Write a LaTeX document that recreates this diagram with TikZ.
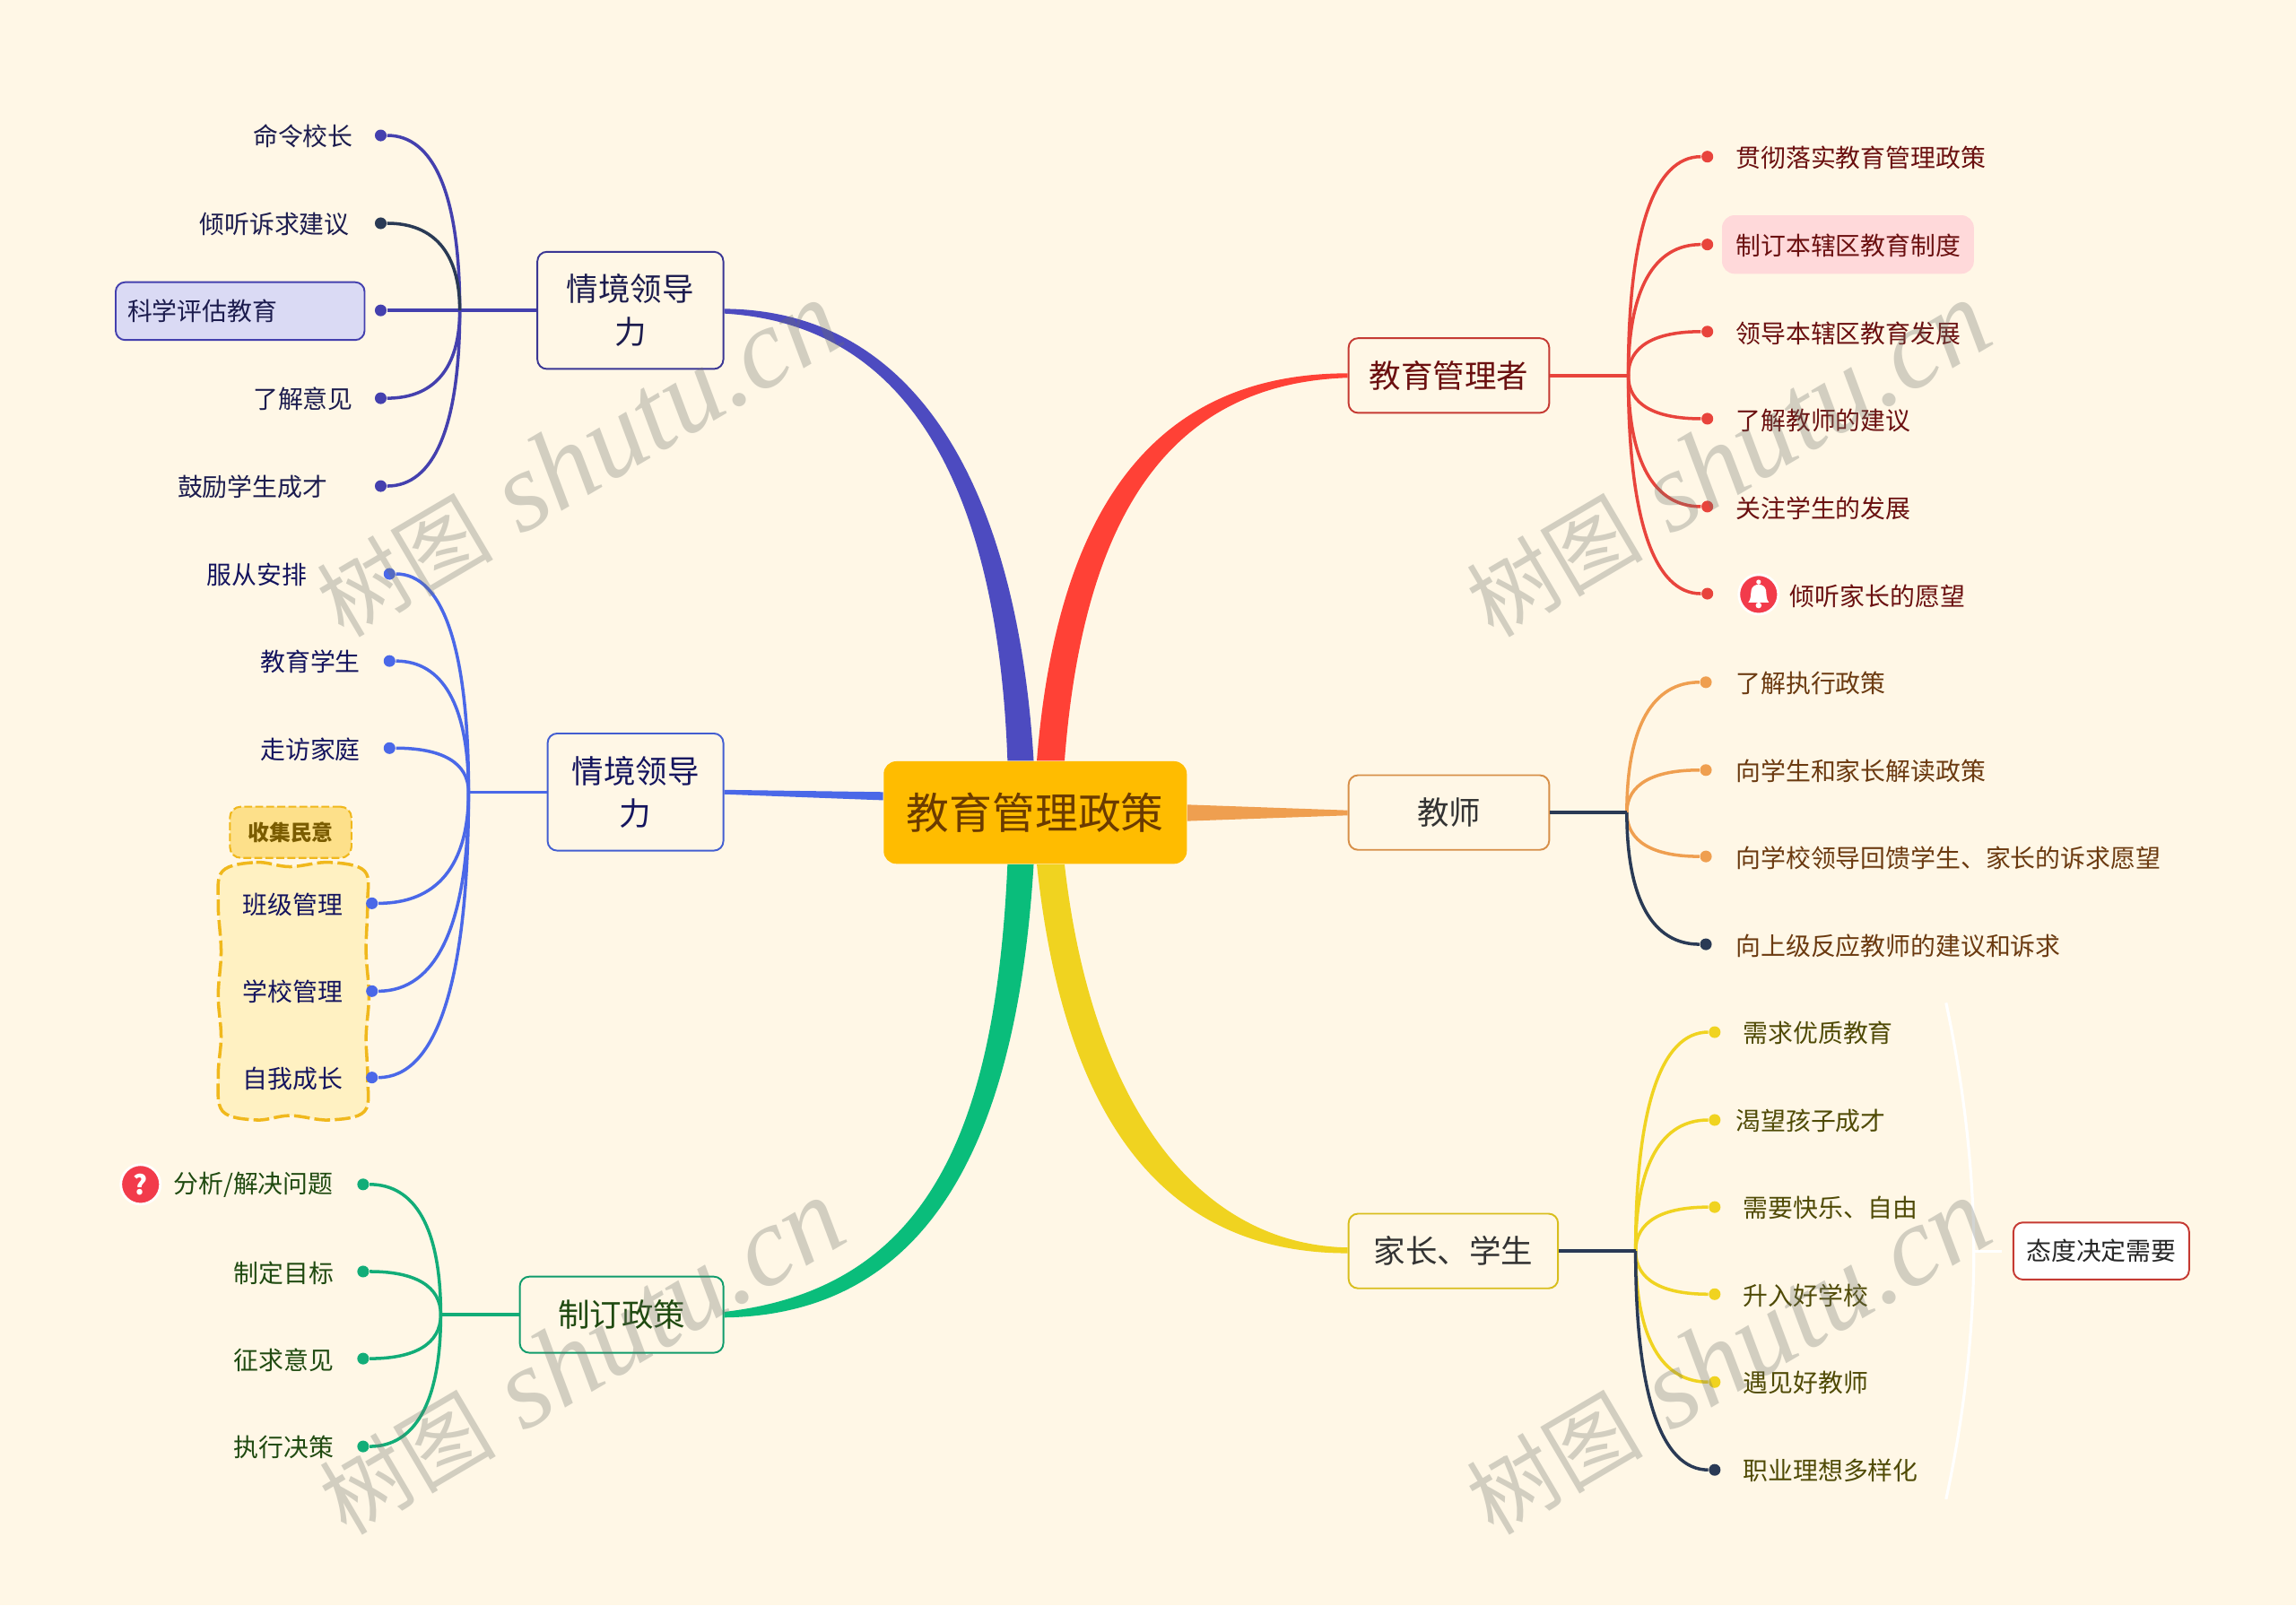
\documentclass[tikz,border=0pt]{standalone}
\usepackage{fontspec}
\usetikzlibrary{calc}
\setmainfont{Noto Sans CJK SC}
\newfontfamily\markfont{Liberation Serif}
\newcommand{\uu}{0.016327cm}
\definecolor{bgcream}{HTML}{FFF7E6}
\definecolor{mainfill}{HTML}{FFBC00}
\definecolor{maintext}{HTML}{6B3B00}
\definecolor{indigoline}{HTML}{4440AE}
\definecolor{indigoribbon}{HTML}{4D4BC0}
\definecolor{indigotext}{HTML}{1C1C4E}
\definecolor{indigosoft}{HTML}{DADAF4}
\definecolor{royalline}{HTML}{4A68E8}
\definecolor{royaltext}{HTML}{14145E}
\definecolor{greenline}{HTML}{12AD78}
\definecolor{greenribbon}{HTML}{0ABD7B}
\definecolor{greentext}{HTML}{1F4A10}
\definecolor{redline}{HTML}{E8443C}
\definecolor{redribbon}{HTML}{FF4136}
\definecolor{redtext}{HTML}{6B1010}
\definecolor{pinksoft}{HTML}{FFD9DA}
\definecolor{orangeline}{HTML}{EF9F50}
\definecolor{orangetext}{HTML}{6B3A10}
\definecolor{yellowline}{HTML}{F0D320}
\definecolor{yellowtext}{HTML}{4F4A05}
\definecolor{navyline}{HTML}{2A3A55}
\definecolor{goldline}{HTML}{F0B81C}
\definecolor{goldtag}{HTML}{FDE08A}
\definecolor{goldsoft}{HTML}{FFF1C2}
\definecolor{goldtext}{HTML}{7A5C00}
\definecolor{iconred}{HTML}{F23B4B}
\definecolor{markgray}{HTML}{6C716A}
\tikzset{
	sized/.style 2 args={minimum width=#1*\uu, minimum height=#2*\uu},
	centerbox/.style={rounded corners=4pt, fill=mainfill, text=maintext, inner sep=0pt, font=\fontsize{13.6}{16}\selectfont},
	topicbox/.style={draw, rounded corners=3pt, line width=0.55pt, fill=bgcream, inner sep=0pt, align=center, font=\fontsize{10.1}{13.5}\selectfont},
	leaf/.style={inner sep=0pt, font=\fontsize{7.93}{10}\selectfont},
	dot/.style={circle, fill, inner sep=0pt, minimum size=8*\uu},
	twig/.style={line width=1pt},
	bendline/.style={to path={.. controls ($(\tikztostart)!0.667!(\tikztostart |- \tikztotarget)$) and ($(\tikztotarget)!0.667!(\tikztostart |- \tikztotarget)$) .. (\tikztotarget)}},
	icon/.style={circle, fill=iconred, draw=white, line width=0.8pt, inner sep=0pt, minimum size=27*\uu},
	watermark/.style={rotate=30.5, text=markgray, text opacity=0.3, inner sep=0pt, font=\fontsize{36}{40}\selectfont\markfont\itshape}
}
\begin{document}
\begin{tikzpicture}[x=\uu, y=-\uu]
	\useasboundingbox (0,0) rectangle (1568,1096.4);
	\fill[bgcream] (0,0) rectangle (1568,1096.4);

	\draw[goldline, fill=goldsoft, line width=1pt, dash pattern=on 5pt off 1.5pt] plot[smooth cycle, tension=0.6] coordinates {(152,595) (175,589) (198,592) (225,589) (249,595) (251,617) (250,650) (252,680) (250,708) (251,735) (249,759) (225,765) (198,762) (175,765) (152,759) (149,735) (151,708) (149,680) (151,650) (149,617)};

	\node[centerbox, sized={207}{70}] (main) at (707,555) {教育管理政策};

	\node[topicbox, sized={127}{80}, draw=indigoline!85!black, text=indigotext] (leadA) at (430.5,212) {情境领导\\力};
	\node[topicbox, sized={120}{80}, draw=royalline!90!black, text=royaltext] (leadB) at (434,541) {情境领导\\力};
	\node[topicbox, sized={139}{52}, draw=greenline!90!black, text=greentext] (policy) at (424.5,898) {制订政策};
	\node[topicbox, sized={137}{51}, draw=redline!85!black, text=redtext] (admin) at (989.5,256.5) {教育管理者};
	\node[topicbox, sized={137}{51}, draw=orangeline!90!black, text=black!80] (teacher) at (989.5,555) {教师};
	\node[topicbox, sized={143}{51}, draw=yellowline!90!black, text=black!80] (family) at (992.5,854.5) {家长、学生};

	\fill[indigoribbon] ([yshift=-1pt]leadA.east) .. controls (630,222) and (682,350) .. ([xshift=-8.8pt]main.north) -- ([xshift=-0.5pt]main.north) .. controls (695,340) and (630,212) .. ([yshift=0.5pt]leadA.east) -- cycle;
	\fill[redribbon] ([yshift=0.7pt]admin.west) .. controls (790,255) and (722,345) .. ([xshift=0.5pt]main.north) -- ([xshift=9.3pt]main.north) .. controls (740,350) and (800,262) .. ([yshift=-0.7pt]admin.west) -- cycle;
	\fill[greenribbon] ([yshift=0.9pt]policy.east) .. controls (635,880) and (680,770) .. ([xshift=-8.8pt]main.south) -- ([xshift=-0.5pt]main.south) .. controls (695,770) and (640,898) .. ([yshift=-0.9pt]policy.east) -- cycle;
	\fill[yellowline] ([yshift=-0.7pt]family.west) .. controls (785,856) and (725,750) .. ([xshift=0.5pt]main.south) -- ([xshift=9.3pt]main.south) .. controls (745,750) and (815,850) .. ([yshift=1.1pt]family.west) -- cycle;
	\fill[royalline] ([yshift=0.7pt]leadB.east) -- ([yshift=6.5pt]main.west) -- ([yshift=3.9pt]main.west) -- ([yshift=-0.7pt]leadB.east) -- cycle;
	\fill[orangeline] ([yshift=2.5pt]main.east) -- ([yshift=0.7pt]teacher.west) -- ([yshift=-0.9pt]teacher.west) -- ([yshift=-2.7pt]main.east) -- cycle;

	\coordinate (jointA) at (314,212);
	\node[dot, indigoline] (a1) at (260,92.5) {};
	\node[dot, navyline] (a2) at (260,152.5) {};
	\node[dot, indigoline] (a3) at (260,212) {};
	\node[dot, indigoline] (a4) at (260,272) {};
	\node[dot, indigoline] (a5) at (260,332) {};
	\node[leaf, text=indigotext] (ta1) at (207,93) {命令校长};
	\node[leaf, text=indigotext] (ta2) at (187.5,153) {倾听诉求建议};
	\node[leaf, draw=indigoline, fill=indigosoft, line width=0.55pt, rounded corners=3pt, sized={170}{39.5}, text=indigotext, text width=154*\uu] (ta3) at (164,212.5) {科学评估教育};
	\node[leaf, text=indigotext] (ta4) at (207,272.5) {了解意见};
	\node[leaf, text=indigotext] (ta5) at (172.5,332.5) {鼓励学生成才};
	\draw[twig, indigoline] (leadA) -- (jointA);
	\draw[twig, indigoline, bendline] (jointA) to (a1);
	\draw[twig, indigoline] (jointA) -- (a3);
	\draw[twig, indigoline, bendline] (jointA) to (a4);
	\draw[twig, indigoline, bendline] (jointA) to (a5);
	\draw[twig, navyline, bendline] (jointA) to (a2);

	\coordinate (jointB) at (320,541);
	\node[dot, royalline] (b1) at (266,392) {};
	\node[dot, royalline] (b2) at (266,451.5) {};
	\node[dot, royalline] (b3) at (266,511) {};
	\node[dot, royalline] (b4) at (254,617) {};
	\node[dot, royalline] (b5) at (254,677) {};
	\node[dot, royalline] (b6) at (254,736) {};
	\node[leaf, text=royaltext] (tb1) at (175.5,392.5) {服从安排};
	\node[leaf, text=royaltext] (tb2) at (212,452) {教育学生};
	\node[leaf, text=royaltext] (tb3) at (212,512) {走访家庭};
	\node[leaf, text=royaltext] (tb4) at (200,618) {班级管理};
	\node[leaf, text=royaltext] (tb5) at (200,677.5) {学校管理};
	\node[leaf, text=royaltext] (tb6) at (200,737) {自我成长};
	\node[draw=goldline, fill=goldtag, rounded corners=3.5pt, line width=0.6pt, dash pattern=on 2.5pt off 1pt, inner sep=0pt, sized={83}{35}, text=goldtext, font=\fontsize{6.8}{8}\selectfont\bfseries] (gather) at (198.5,568.5) {收集民意};
	\draw[twig, royalline] (leadB) -- (jointB);
	\draw[twig, royalline, bendline] (jointB) to (b1);
	\draw[twig, royalline, bendline] (jointB) to (b2);
	\draw[twig, royalline, bendline] (jointB) to (b3);
	\draw[twig, royalline, bendline] (jointB) to (b4);
	\draw[twig, royalline, bendline] (jointB) to (b5);
	\draw[twig, royalline, bendline] (jointB) to (b6);

	\coordinate (jointC) at (301,898);
	\node[dot, greenline] (c1) at (248,809) {};
	\node[dot, greenline] (c2) at (248,868.5) {};
	\node[dot, greenline] (c3) at (248,928) {};
	\node[dot, greenline] (c4) at (248,988) {};
	\node[icon, font=\fontsize{8.5}{10}\selectfont\bfseries, text=white] (question) at (96,809) {?};
	\node[leaf, text=greentext] (tc1) at (173,809.5) {分析/解决问题};
	\node[leaf, text=greentext] (tc2) at (194,869.5) {制定目标};
	\node[leaf, text=greentext] (tc3) at (194,929) {征求意见};
	\node[leaf, text=greentext] (tc4) at (194,988.5) {执行决策};
	\draw[twig, greenline] (policy) -- (jointC);
	\draw[twig, greenline, bendline] (jointC) to (c1);
	\draw[twig, greenline, bendline] (jointC) to (c2);
	\draw[twig, greenline, bendline] (jointC) to (c3);
	\draw[twig, greenline, bendline] (jointC) to (c4);

	\coordinate (jointD) at (1112,256.5);
	\node[dot, redline] (d1) at (1166,107) {};
	\node[dot, redline] (d2) at (1166,167) {};
	\node[dot, redline] (d3) at (1166,226.5) {};
	\node[dot, redline] (d4) at (1166,286) {};
	\node[dot, redline] (d5) at (1166,346) {};
	\node[dot, redline] (d6) at (1166,405.5) {};
	\node[leaf, anchor=west, text=redtext] (td1) at (1185,107.5) {贯彻落实教育管理政策};
	\node[leaf, fill=pinksoft, rounded corners=4pt, sized={172}{40}] (pinkbox) at (1262,167) {};
	\node[leaf, anchor=west, text=redtext] (td2) at (1185,167.5) {制订本辖区教育制度};
	\node[leaf, anchor=west, text=redtext] (td3) at (1185,227.5) {领导本辖区教育发展};
	\node[leaf, anchor=west, text=redtext] (td4) at (1185,287) {了解教师的建议};
	\node[leaf, anchor=west, text=redtext] (td5) at (1185,347) {关注学生的发展};
	\node[icon] (bell) at (1201,406) {};
	\fill[white, shift={(bell)}] (-7,5.5) .. controls (-5,3) and (-5.5,0) .. (-5,-3) .. controls (-4,-8) and (4,-8) .. (5,-3) .. controls (5.5,0) and (5,3) .. (7,5.5) -- cycle (0,-8.5) circle (1.6) (0,7.5) circle (2);
	\node[leaf, anchor=west, text=redtext] (td6) at (1222,407) {倾听家长的愿望};
	\draw[twig, redline] (admin) -- (jointD);
	\draw[twig, redline, bendline] (jointD) to (d1);
	\draw[twig, redline, bendline] (jointD) to (d2);
	\draw[twig, redline, bendline] (jointD) to (d3);
	\draw[twig, redline, bendline] (jointD) to (d4);
	\draw[twig, redline, bendline] (jointD) to (d5);
	\draw[twig, redline, bendline] (jointD) to (d6);

	\coordinate (jointE) at (1111,555);
	\node[dot, orangeline] (e1) at (1165,466) {};
	\node[dot, orangeline] (e2) at (1165,526) {};
	\node[dot, orangeline] (e3) at (1165,585) {};
	\node[dot, navyline] (e4) at (1165,645) {};
	\node[leaf, anchor=west, text=orangetext] (te1) at (1185,466.5) {了解执行政策};
	\node[leaf, anchor=west, text=orangetext] (te2) at (1185,526.5) {向学生和家长解读政策};
	\node[leaf, anchor=west, text=orangetext] (te3) at (1185,586) {向学校领导回馈学生、家长的诉求愿望};
	\node[leaf, anchor=west, text=orangetext] (te4) at (1185,646) {向上级反应教师的建议和诉求};
	\draw[twig, orangeline, bendline] (jointE) to (e1);
	\draw[twig, orangeline, bendline] (jointE) to (e2);
	\draw[twig, orangeline, bendline] (jointE) to (e3);
	\draw[twig, navyline, bendline] (jointE) to (e4);
	\draw[twig, navyline] (teacher) -- (jointE);

	\coordinate (jointF) at (1117,854.5);
	\node[dot, yellowline] (f1) at (1171,705) {};
	\node[dot, yellowline] (f2) at (1171,765) {};
	\node[dot, yellowline] (f3) at (1171,824.5) {};
	\node[dot, yellowline] (f4) at (1171,884) {};
	\node[dot, yellowline] (f5) at (1171,944) {};
	\node[dot, navyline] (f6) at (1171,1004) {};
	\node[leaf, anchor=west, text=yellowtext] (tf1) at (1190,705.5) {需求优质教育};
	\node[leaf, anchor=west, text=yellowtext] (tf2) at (1185,765.5) {渴望孩子成才};
	\node[leaf, anchor=west, text=yellowtext] (tf3) at (1190,825) {需要快乐、自由};
	\node[leaf, anchor=west, text=yellowtext] (tf4) at (1190,885) {升入好学校};
	\node[leaf, anchor=west, text=yellowtext] (tf5) at (1190,944.5) {遇见好教师};
	\node[leaf, anchor=west, text=yellowtext] (tf6) at (1190,1004.5) {职业理想多样化};
	\draw[twig, yellowline, bendline] (jointF) to (f1);
	\draw[twig, yellowline, bendline] (jointF) to (f2);
	\draw[twig, yellowline, bendline] (jointF) to (f3);
	\draw[twig, yellowline, bendline] (jointF) to (f4);
	\draw[twig, yellowline, bendline] (jointF) to (f5);
	\draw[twig, navyline, bendline] (jointF) to (f6);
	\draw[twig, navyline] (family) -- (jointF);

	\node[leaf, draw=redline!85!black, fill=white, rounded corners=3pt, line width=0.55pt, sized={120}{39}, text=black!85] (attitude) at (1435,854.5) {态度决定需要};
	\coordinate (rangeTop) at (1329,685);
	\coordinate (rangeBot) at (1329,1024);
	\coordinate (rangeMid) at (1348,854.5);
	\coordinate (rangeEnd) at (1367,854.5);
	\draw[white, line width=0.9pt] (rangeTop) .. controls (1343,750) and (1348,810) .. (rangeMid) .. controls (1348,900) and (1343,960) .. (rangeBot);
	\draw[white, line width=0.9pt] (rangeMid) -- (rangeEnd);

	\node[watermark] (markA) at (395,314) {{\fontsize{28}{32}\selectfont\rmfamily 树图} shutu.cn};
	\node[watermark] (markB) at (1180,314) {{\fontsize{28}{32}\selectfont\rmfamily 树图} shutu.cn};
	\node[watermark] (markC) at (397,927) {{\fontsize{28}{32}\selectfont\rmfamily 树图} shutu.cn};
	\node[watermark] (markD) at (1180,927) {{\fontsize{28}{32}\selectfont\rmfamily 树图} shutu.cn};
\end{tikzpicture}
\end{document}
